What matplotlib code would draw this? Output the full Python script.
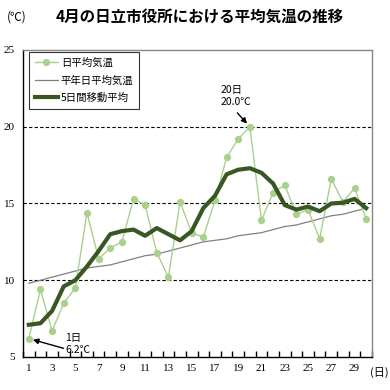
import numpy as np
import matplotlib
matplotlib.use("Agg")
import matplotlib.pyplot as plt

plt.rcParams["font.family"] = ["Noto Sans CJK JP", "DejaVu Sans"]

# Data (April, Hitachi city office)
days = list(range(1, 31))
daily_mean = [6.2, 9.4, 6.7, 8.5, 9.5, 14.4, 11.4, 12.1, 12.5, 15.3,
              14.9, 11.8, 10.2, 15.1, 13.1, 12.8, 15.2, 18.0, 19.2, 20.0,
              13.9, 15.7, 16.2, 14.3, 14.6, 12.7, 16.6, 15.1, 16.0, 14.0]
normal_mean = [9.8, 10.0, 10.2, 10.4, 10.6, 10.8, 10.9, 11.0, 11.2, 11.4,
               11.6, 11.7, 11.9, 12.1, 12.3, 12.5, 12.6, 12.7, 12.9, 13.0,
               13.1, 13.3, 13.5, 13.6, 13.8, 14.0, 14.2, 14.3, 14.5, 14.7]
moving_avg = [7.1, 7.2, 8.0, 9.6, 10.0, 10.9, 11.9, 13.0, 13.2, 13.3,
              12.9, 13.4, 13.0, 12.6, 13.2, 14.7, 15.5, 16.9, 17.2, 17.3,
              17.0, 16.3, 14.9, 14.6, 14.8, 14.5, 15.0, 15.05, 15.3, 14.7]
series_labels = ["日平均気温", "平年日平均気温", "5日間移動平均"]
y_ticks = [5, 10, 15, 20, 25]
x_ticks = list(range(1, 31, 2))

LIGHT_GREEN = "#a9d18e"
DARK_GREEN = "#385723"
GRAY = "#808080"

fig = plt.figure(figsize=(3.9, 3.9), dpi=100)
ax = fig.add_axes([23 / 390, 1 - 357 / 390, 349 / 390, 307 / 390])

# Dashed horizontal gridlines
for y in y_ticks[1:-1]:
    ax.axhline(y, color="black", lw=0.8, ls=(0, (3, 2)), zorder=1)

ax.plot(days, normal_mean, color=GRAY, lw=0.9, label=series_labels[1], zorder=2)
ax.plot(days, daily_mean, color=LIGHT_GREEN, lw=1.0, marker="o", ms=4.2,
        mec=LIGHT_GREEN, mfc=LIGHT_GREEN, label=series_labels[0], zorder=3)
ax.plot(days, moving_avg, color=DARK_GREEN, lw=3, label=series_labels[2],
        zorder=4, solid_joinstyle="round")

ax.set_xlim(0.5, 30.5)
ax.set_ylim(5, 25)

# Axes styling
ax.spines["left"].set_color("black")
ax.spines["bottom"].set_color("black")
ax.spines["top"].set_color("#868686")
ax.spines["right"].set_color("#868686")
for s in ax.spines.values():
    s.set_linewidth(1)

ax.set_yticks(y_ticks)
ax.set_yticklabels([str(v) for v in y_ticks], family="Liberation Serif", fontsize=8)
ax.tick_params(axis="y", length=0, pad=6)
ax.set_xticks(x_ticks)
ax.set_xticklabels([str(v) for v in x_ticks], family="Liberation Serif", fontsize=8)
ax.set_xticks(np.arange(0.5, 31, 1), minor=True)
ax.tick_params(axis="x", which="major", length=0, pad=5)
ax.tick_params(axis="x", which="minor", direction="in", length=4, width=1)

# Legend
handles, labels = ax.get_legend_handles_labels()
order = [1, 0, 2]
leg = ax.legend([handles[i] for i in order], [labels[i] for i in order],
                loc="upper left", bbox_to_anchor=(0.017, 0.993), borderaxespad=0,
                fontsize=7.5, frameon=True, fancybox=False, handlelength=2.2,
                handletextpad=0.3, labelspacing=0.7, borderpad=0.55, numpoints=1)
leg.get_frame().set_edgecolor("black")
leg.get_frame().set_linewidth(0.8)

# Annotations for max and min
i_max = daily_mean.index(max(daily_mean))
i_min = daily_mean.index(min(daily_mean))
arrow = dict(arrowstyle="-|>", color="black", lw=1, mutation_scale=8,
             shrinkA=0, shrinkB=3)
ax.annotate("", xy=(days[i_max], daily_mean[i_max]), xytext=(-9, 10),
            textcoords="offset points", arrowprops=arrow, zorder=6)
ax.annotate(f"{days[i_max]}日\n{daily_mean[i_max]:.1f}℃",
            xy=(days[i_max], daily_mean[i_max]), xytext=(-21, 14),
            textcoords="offset points", ha="left", va="bottom",
            fontsize=7.5, linespacing=1.3)
ax.annotate("", xy=(days[i_min], daily_mean[i_min]), xytext=(25, -7),
            textcoords="offset points", arrowprops=arrow, zorder=6)
ax.annotate(f"{days[i_min]}日\n{daily_mean[i_min]:.1f}℃",
            xy=(days[i_min], daily_mean[i_min]), xytext=(26, -4),
            textcoords="offset points", ha="left", va="center",
            fontsize=7.5, linespacing=1.3)

# Titles and units
fig.text(56 / 390, 1 - 17 / 390, "4月の日立市役所における平均気温の推移",
         fontsize=11.2, fontweight="bold", va="center", ha="left")
fig.text(7 / 390, 1 - 17 / 390, "(℃)", fontsize=8.5, va="center", ha="left")
fig.text(389 / 390, 1 - 373 / 390, "(日)", fontsize=8, va="center", ha="right")

fig.savefig("out.png", dpi=100)
